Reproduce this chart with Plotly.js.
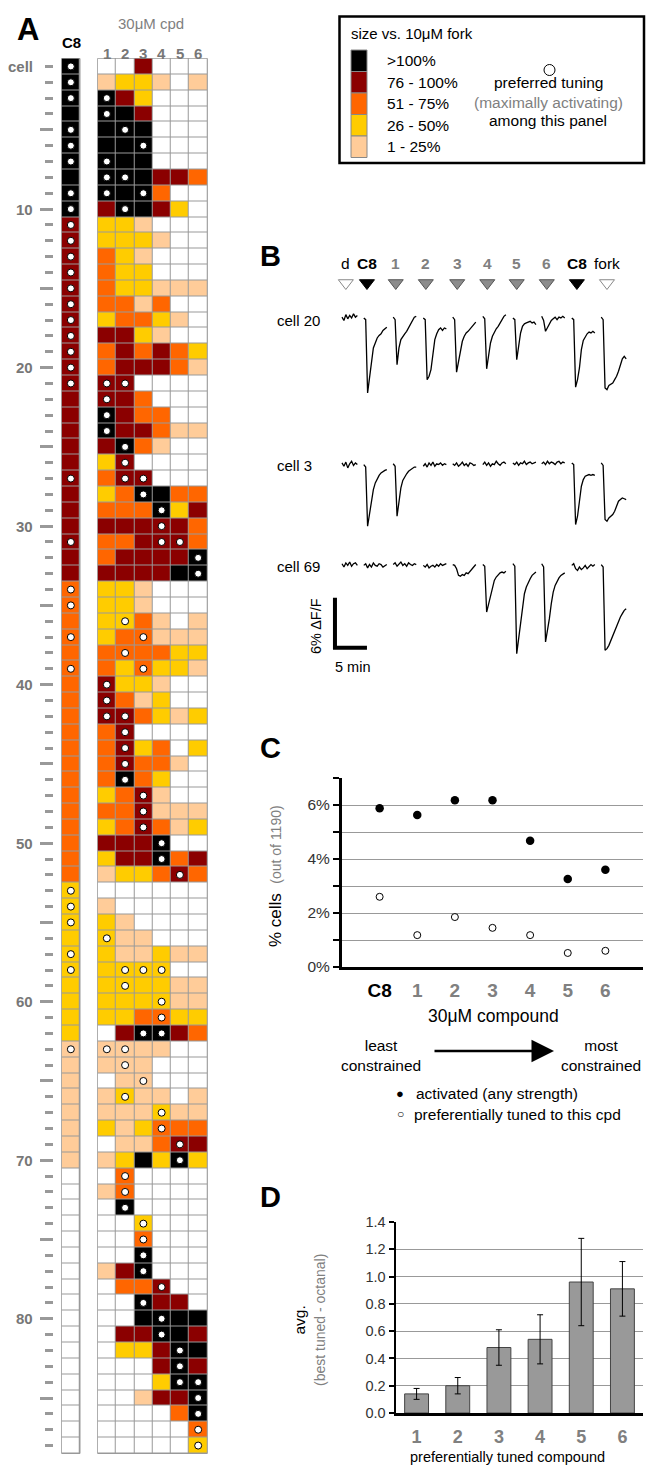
<!DOCTYPE html>
<html><head><meta charset="utf-8">
<script src="https://cdn.plot.ly/plotly-3.0.1.min.js"></script>
<style>body{margin:0;padding:0;background:#fff}#chart{width:661px;height:1469px}</style>
</head><body><div id="chart"></div>
<script>
const W = 661, H = 1469;
const FONT = 'Liberation Sans, Arial, sans-serif';

// ---------- Panel A data (level codes: 0 none, 1 = 1-25%, 2 = 26-50%, 3 = 51-75%, 4 = 76-100%, 5 = >100%) ----------
const levelColors = ['#ffffff', '#ffcc99', '#ffcc00', '#ff6600', '#8b0000', '#000000'];
const legendLabels = ['>100%', '76 - 100%', '51 - 75%', '26 - 50%', '1 - 25%'];
const legendLevels = [5, 4, 3, 2, 1];
const compoundNames = ['1', '2', '3', '4', '5', '6'];
const c8Level = [5,5,5,5,5,5,5,5,5,5, 4,4,4,4,4,4,4,4,4,4, 4,4,4,4,4,4,4,4,4,4, 4,4,4,3,3,3,3,3,3,3,
  3,3,3,3,3,3,3,3,3,3, 3,3,2,2,2,2,2,2,2,2, 2,2,1,1,1,1,1,1,1,1, 0,0,0,0,0,0,0,0,0,0, 0,0,0,0,0,0,0,0];
const cpd1Level = [0,1,5,5,5,5,5,5,5,4, 2,2,3,3,3,3,2,4,3,3, 4,4,5,5,4,2,3,2,3,4, 3,3,4,2,2,2,2,3,3,4,
  4,4,3,3,3,3,2,3,2,4, 2,1,0,1,2,2,2,2,2,2, 2,0,1,1,0,1,1,2,0,1, 0,1,0,0,0,0,1,0,0,0, 0,0,0,0,0,0,0,0];
const cpd2Level = [0,2,4,5,5,5,5,5,5,5, 2,2,2,2,2,3,3,4,4,4, 4,4,4,4,5,4,4,3,3,4, 3,4,4,2,2,2,3,3,2,2,
  3,4,4,4,4,5,3,3,3,4, 4,2,0,0,1,1,1,2,2,2, 2,4,1,1,1,2,1,1,1,2, 3,3,5,0,0,0,4,3,0,0, 4,2,0,0,0,0,0,0];
const cpd3Level = [4,2,2,4,5,5,5,5,5,5, 1,2,1,2,2,1,3,2,3,4, 0,3,3,4,3,0,4,5,3,4, 4,4,4,1,1,3,3,3,3,2,
  1,3,0,2,3,3,4,4,4,4, 4,2,0,0,0,1,1,2,2,2, 3,5,1,1,1,1,1,2,1,5, 0,0,0,2,3,5,5,3,5,5, 4,2,0,0,1,0,0,0];
const cpd4Level = [0,1,0,0,0,0,0,4,3,4, 0,1,0,0,1,3,2,1,4,4, 0,0,3,3,1,0,0,5,5,4, 4,4,4,0,0,1,1,3,2,1,
  2,2,0,3,3,2,1,1,3,5, 5,3,0,0,0,0,2,2,2,2, 3,5,1,0,0,1,2,3,3,2, 0,0,0,0,0,0,0,4,4,5, 5,4,4,2,4,0,0,0];
const cpd5Level = [0,0,0,0,0,0,0,4,0,2, 0,0,0,0,1,0,1,0,3,3, 0,0,0,1,0,0,0,3,2,4, 4,4,5,0,0,0,1,2,2,0,
  0,1,0,0,1,0,0,1,1,0, 3,4,0,0,0,0,1,0,1,1, 2,4,0,0,0,0,1,3,4,5, 0,0,0,0,0,0,0,0,4,5, 5,5,5,5,4,3,0,0];
const cpd6Level = [0,1,0,0,0,0,0,3,0,0, 0,0,0,0,1,0,0,0,2,1, 0,0,0,1,0,0,0,3,4,3, 3,5,5,0,0,1,1,2,1,0,
  0,2,0,2,0,0,0,1,2,0, 4,3,0,0,0,0,1,0,1,1, 2,3,0,0,0,1,1,3,4,2, 0,0,0,0,0,0,0,0,0,5, 4,5,4,5,5,5,3,2];
// preferred tuning (dots): cell numbers
const c8Dots = [1,2,3,5,6,7,9,10,11,12,13,14,15,16,17,18,19,20,21,27,31,34,35,37,39,53,54,55,57,58,63];
const cpd1Dots = [3,4,7,8,9,21,22,23,24,40,41,42,56,63];
const cpd2Dots = [5,8,10,21,25,26,27,36,38,42,43,44,45,46,58,59,63,64,66,71,72,73];
const cpd3Dots = [6,9,27,28,37,39,47,48,49,58,62,65,74,75,76,77,79];
const cpd4Dots = [29,30,31,50,51,58,60,61,62,67,68,78,80,81];
const cpd5Dots = [31,52,69,70,82,83,84];
const cpd6Dots = [32,33,84,85,86,87,88];
const rowMajorTicks = [5,10,15,20,25,30,35,40,45,50,55,60,65,70,75,80,85];
const rowLabelText = ['cell','10','20','30','40','50','60','70','80'];
const rowLabelAt = [1,10,20,30,40,50,60,70,80];

// ---------- Panel B data (ΔF/F %, sampled every 0.3 min within each stimulus window) ----------
const stimLabels = ['d','C8','1','2','3','4','5','6','C8','fork'];
const stimTimes = [0.6,3.9,8.4,13.1,18.0,22.7,27.3,32.0,36.7,41.4];   // min
const windowStart = [0,3.4,8.0,12.7,17.3,22.0,26.7,31.2,35.9,40.5]; // min
const sampleMin = 0.3;
const cell20 = [
  [0.1,-0.3,0.4,-0.1,0.3,0.0,0.5,0.1,0.3],
  [0.0,-0.2,-9.0,-7.2,-5.0,-3.6,-3.0,-2.4,-2.1,-1.9,-1.5,-1.3,-1.1],
  [0.1,-0.2,-5.6,-3.6,-2.6,-2.2,-1.9,-1.6,-1.2,-0.8,-0.4,0.1,0.2],
  [0.0,-0.2,-7.4,-7.0,-6.2,-4.0,-2.6,-1.9,-1.4,-1.2,-1.5,-1.2,-1.3],
  [0.1,-0.2,-6.5,-5.4,-4.0,-2.8,-2.2,-1.8,-1.6,-1.3,-1.1,-0.8,-0.5],
  [0.2,-0.1,-6.1,-4.4,-3.0,-2.2,-1.7,-1.3,-1.0,-0.6,-0.2,0.2,0.4],
  [0.0,-0.2,-5.0,-3.2,-1.8,-1.0,-0.7,-0.6,-0.5,-0.4,-0.6,-0.5,-0.8],
  [0.2,-0.3,-1.6,-1.1,-0.6,-0.3,-0.1,0.1,-0.2,0.1,0.0,0.2,0.0],
  [0.0,-0.2,-8.3,-7.4,-6.0,-3.8,-2.7,-2.2,-1.9,-1.7,-1.8,-1.6,-1.8],
  [0.1,-0.2,-8.4,-8.6,-8.1,-7.9,-7.8,-7.4,-7.0,-6.4,-5.6,-4.9,-4.6,-4.9]
];
const cell3 = [
  [0.2,-0.2,0.3,-0.4,0.1,0.4,-0.1,0.2,0.0],
  [0.0,-0.3,-7.4,-6.0,-4.2,-3.0,-2.2,-1.7,-1.3,-1.0,-0.8,-0.7,-0.6],
  [0.1,-0.2,-6.2,-4.2,-2.8,-1.9,-1.4,-1.1,-0.8,-0.6,-0.4,-0.3,-0.3],
  [-0.2,0.1,-0.3,0.2,-0.1,0.3,-0.2,0.1,0.0,0.2,-0.1,0.1,0.0],
  [0.1,-0.1,0.2,-0.2,0.0,0.3,-0.1,0.1,-0.2,0.2,0.1,-0.1,0.0],
  [0.0,0.3,-0.1,0.2,-0.2,0.1,0.0,0.4,0.1,-0.1,0.2,0.3,0.1],
  [0.2,0.0,0.3,-0.1,0.2,0.1,0.4,0.0,0.2,0.3,0.1,0.2,0.3],
  [0.1,0.3,0.0,0.4,0.1,0.3,0.2,0.0,0.3,0.4,0.1,0.3,0.2],
  [0.2,0.0,-7.2,-6.2,-4.4,-2.6,-1.8,-1.4,-1.3,-1.2,-1.3,-1.2,-1.3],
  [0.2,-0.1,-6.6,-6.8,-6.4,-6.2,-6.0,-5.6,-5.0,-4.4,-4.2,-4.0,-4.1,-4.2]
];
const cell69 = [
  [0.2,-0.2,0.3,0.0,0.4,-0.1,0.2,0.3,0.0],
  [0.0,0.2,-0.3,0.1,-0.2,0.3,0.0,-0.1,0.2,0.1,-0.2,0.0,0.1],
  [0.1,0.3,-0.1,0.2,0.4,0.0,0.2,-0.1,0.3,0.1,0.0,0.2,0.1],
  [0.0,-0.2,0.1,-0.3,-0.1,0.0,-0.2,0.1,-0.1,0.2,0.0,0.1,0.2],
  [0.1,0.0,-0.4,-1.2,-1.3,-1.1,-1.2,-0.9,-1.0,-0.7,-0.4,-0.1,0.1],
  [0.1,-0.1,-5.6,-4.6,-3.4,-2.4,-1.8,-1.4,-1.1,-0.9,-0.8,-0.9,-0.7],
  [0.2,-0.1,-10.6,-8.8,-6.8,-4.8,-3.4,-2.6,-2.0,-1.6,-1.2,-1.0,-0.8],
  [0.2,-0.2,-9.2,-8.0,-6.4,-4.6,-3.2,-2.4,-1.9,-1.5,-1.2,-1.0,-0.9],
  [0.0,0.2,-0.4,-0.6,-0.2,-0.5,-0.3,0.0,-0.4,-0.2,0.1,-0.1,0.1],
  [0.1,-0.2,-10.2,-10.0,-9.6,-9.0,-8.4,-7.8,-7.2,-6.8,-6.2,-5.8,-5.4,-5.2]
];
const scaleBarPct = 6, scaleBarMin = 5;

// ---------- Panel C data ----------
const cCats = ['C8','1','2','3','4','5','6'];
const activatedPct = [5.88,5.63,6.18,6.18,4.68,3.26,3.60];
const preferredPct = [2.60,1.18,1.85,1.45,1.18,0.52,0.60];

// ---------- Panel D data ----------
const dCats = ['1','2','3','4','5','6'];
const tunedDiff = [0.14,0.20,0.48,0.54,0.96,0.91];
const tunedErr = [0.04,0.06,0.13,0.18,0.32,0.20];

// ---------- helpers ----------
const PX = v => v / W, PY = v => 1 - v / H;
function pa(text, x, y, o) {
  o = o || {};
  const font = Object.assign({family: FONT, size: 15, color: '#000'}, o.font || {});
  return Object.assign({text, x: PX(x), y: PY(y), xref: 'paper', yref: 'paper', showarrow: false,
    xanchor: 'center', yanchor: 'middle'}, o, {font});
}
const cellIds = c8Level.map((_, i) => i + 1);
const cpdLevels = [cpd1Level, cpd2Level, cpd3Level, cpd4Level, cpd5Level, cpd6Level];
const cpdDots = [cpd1Dots, cpd2Dots, cpd3Dots, cpd4Dots, cpd5Dots, cpd6Dots];
const colorscale = [];
levelColors.forEach((c, i) => { colorscale.push([i / 6, c]); colorscale.push([(i + 1) / 6, c]); });

const traces = [];
// Panel A heatmaps
traces.push({type: 'heatmap', x: [0], y: cellIds, z: c8Level.map(v => [v]), colorscale, zmin: -0.5, zmax: 5.5,
  showscale: false, xgap: 1, ygap: 1, hoverinfo: 'skip', xaxis: 'x', yaxis: 'y'});
const cpdX = compoundNames.map((_, i) => i + 1);
traces.push({type: 'heatmap', x: cpdX, y: cellIds, z: cellIds.map((_, r) => cpdLevels.map(col => col[r])),
  colorscale, zmin: -0.5, zmax: 5.5, showscale: false, xgap: 1, ygap: 1, hoverinfo: 'skip', xaxis: 'x2', yaxis: 'y2'});
const dotMarker = {size: 7, color: '#ffffff', line: {color: '#000', width: 1}};
traces.push({type: 'scatter', mode: 'markers', x: c8Dots.map(() => 0), y: c8Dots, marker: dotMarker,
  hoverinfo: 'skip', xaxis: 'x', yaxis: 'y'});
const dx = [], dy = [];
cpdDots.forEach((list, k) => list.forEach(r => { dx.push(k + 1); dy.push(r); }));
traces.push({type: 'scatter', mode: 'markers', x: dx, y: dy, marker: dotMarker, hoverinfo: 'skip', xaxis: 'x2', yaxis: 'y2'});

// Panel B traces
const cellOffsets = [0, -17.6, -29.7]; // vertical placement of each trace (layout)
[cell20, cell3, cell69].forEach((segs, ci) => {
  const x = [], y = [];
  segs.forEach((vals, si) => {
    vals.forEach((v, j) => { x.push(windowStart[si] + j * sampleMin); y.push(v + cellOffsets[ci]); });
    x.push(null); y.push(null);
  });
  traces.push({type: 'scatter', mode: 'lines', x, y, line: {color: '#000', width: 1.3}, hoverinfo: 'skip',
    xaxis: 'x5', yaxis: 'y5', connectgaps: false});
});
const stimRowY = 4.2, stimLabelY = 6.5;
const stimFill = stimLabels.map((s) => (s === 'C8') ? '#000' : (s === 'd' || s === 'fork') ? '#fff' : '#8c8c8c');
const stimLine = stimLabels.map((s) => (s === 'C8') ? '#000' : (s === 'd' || s === 'fork') ? '#888' : '#555');
traces.push({type: 'scatter', mode: 'markers', x: stimTimes, y: stimTimes.map(() => stimRowY),
  marker: {symbol: 'triangle-down', size: 13, color: stimFill, line: {color: stimLine, width: 1}},
  cliponaxis: false, hoverinfo: 'skip', xaxis: 'x5', yaxis: 'y5'});
// scale bar
const sbX = -1.1, sbY = -33.6;
traces.push({type: 'scatter', mode: 'lines', x: [sbX, sbX, sbX + scaleBarMin], y: [sbY, sbY - scaleBarPct, sbY - scaleBarPct],
  line: {color: '#000', width: 4}, hoverinfo: 'skip', xaxis: 'x5', yaxis: 'y5', cliponaxis: false});

// Panel C
const cPos = cCats.map((_, i) => i);
traces.push({type: 'scatter', mode: 'markers', x: cPos, y: activatedPct, marker: {size: 8.5, color: '#000'},
  cliponaxis: false, hoverinfo: 'skip', xaxis: 'x3', yaxis: 'y3'});
traces.push({type: 'scatter', mode: 'markers', x: cPos, y: preferredPct,
  marker: {size: 7, color: '#fff', line: {color: '#000', width: 1}}, cliponaxis: false, hoverinfo: 'skip', xaxis: 'x3', yaxis: 'y3'});

// Panel D
const dPos = dCats.map((_, i) => i + 1);
traces.push({type: 'bar', x: dPos, y: tunedDiff, width: 0.58, marker: {color: '#999999', line: {color: '#444', width: 1}},
  error_y: {type: 'data', array: tunedErr, visible: true, color: '#000', thickness: 1, width: 3},
  hoverinfo: 'skip', xaxis: 'x4', yaxis: 'y4'});

const grey = '#7f7f7f';
const annotations = [];
// panel letters
annotations.push(pa('<b>A</b>', 28, 30, {font: {size: 31}}));
annotations.push(pa('<b>B</b>', 270, 256, {font: {size: 29}}));
annotations.push(pa('<b>C</b>', 270, 748, {font: {size: 29}}));
annotations.push(pa('<b>D</b>', 270, 1197, {font: {size: 29}}));
// Panel A headers
annotations.push(pa('30μM cpd', 151, 23, {font: {size: 15, color: grey}}));
annotations.push(pa('<b>C8</b>', 71, 43, {font: {size: 15}}));
compoundNames.forEach((n, i) => annotations.push({text: '<b>' + n + '</b>', x: i + 1, y: PY(43), xref: 'x2', yref: 'paper', showarrow: false,
  font: {family: FONT, size: 15, color: '#777'}}));
rowLabelText.forEach((t, i) => annotations.push({text: '<b>' + t + '</b>', x: PX(35), y: rowLabelAt[i], xref: 'paper', yref: 'y',
  xanchor: 'right', yanchor: 'middle', showarrow: false, font: {family: FONT, size: 15, color: '#777'}}));
// legend box texts
annotations.push(pa('size vs. 10μM fork', 349, 33, {xanchor: 'left', font: {size: 15}}));
legendLabels.forEach((t, i) => annotations.push(pa(t, 385, 60.5 + i * 21.5, {xanchor: 'left', font: {size: 15.5}})));
annotations.push(pa('preferred tuning', 548, 83, {font: {size: 15.5}}));
annotations.push(pa('(maximally activating)', 548, 102, {font: {size: 15.5, color: grey}}));
annotations.push(pa('among this panel', 548, 121, {font: {size: 15.5}}));
// Panel B texts
annotations.push(pa('cell 20', 275, 320, {xanchor: 'left'}));
annotations.push(pa('cell 3', 275, 465, {xanchor: 'left'}));
annotations.push(pa('cell 69', 275, 566, {xanchor: 'left'}));
stimLabels.forEach((s, i) => {
  const isC8 = s === 'C8', isNum = !(isC8 || s === 'd' || s === 'fork');
  annotations.push({text: (isC8 || isNum) ? '<b>' + s + '</b>' : s, x: stimTimes[i], y: stimLabelY, xref: 'x5', yref: 'y5', showarrow: false,
    font: {family: FONT, size: 15.5, color: isNum ? '#808080' : '#000'}});
});
annotations.push(pa('6% ΔF/F', 316, 626, {textangle: -90, font: {size: 14.5}}));
annotations.push(pa('5 min', 352, 667, {font: {size: 14.5}}));
// Panel C texts
annotations.push(pa('% cells  <span style="font-size:14px;color:#808080">(out of 1190)</span>', 275, 876, {textangle: -90, font: {size: 17}}));
annotations.push(pa('30μM compound', 493, 1016, {font: {size: 17.5}}));
annotations.push(pa('least<br>constrained', 381, 1055, {font: {size: 15.5}}));
annotations.push(pa('most<br>constrained', 601, 1055, {font: {size: 15.5}}));
annotations.push({text: '', x: PX(554), y: PY(1051), xref: 'paper', yref: 'paper', ax: -121, ay: 0, axref: 'pixel', ayref: 'pixel',
  showarrow: true, arrowhead: 2, arrowsize: 1.8, arrowwidth: 2.5, arrowcolor: '#000'});
annotations.push(pa('●', 400, 1093, {font: {size: 13}}));
annotations.push(pa('activated (any strength)', 414, 1093, {xanchor: 'left', font: {size: 15.5}}));
annotations.push(pa('○', 400, 1114, {font: {size: 12}}));
annotations.push(pa('preferentially tuned to this cpd', 412, 1114, {xanchor: 'left', font: {size: 15.5}}));
// Panel D texts
annotations.push(pa('avg.<br><span style="font-size:14px;color:#808080">(best tuned - octanal)</span>', 309, 1320, {textangle: -90, font: {size: 15.5}}));
annotations.push(pa('preferentially tuned compound', 507, 1457, {font: {size: 14.5}}));

// shapes
const shapes = [];
['x', 'x2'].forEach((xa, i) => shapes.push({type: 'rect', xref: xa + ' domain', yref: (i ? 'y2' : 'y') + ' domain', x0: 0, x1: 1, y0: 0, y1: 1,
  fillcolor: '#999', line: {color: '#999', width: 1}, layer: 'below'}));
shapes.push({type: 'rect', xref: 'paper', yref: 'paper', x0: PX(339.5), x1: PX(644), y0: PY(163), y1: PY(16.5), line: {color: '#000', width: 2.5}});
legendLevels.forEach((lv, i) => shapes.push({type: 'rect', xref: 'paper', yref: 'paper', x0: PX(351), x1: PX(367),
  y0: PY(50 + (i + 1) * 21.5), y1: PY(50 + i * 21.5), fillcolor: levelColors[lv], line: {color: '#888', width: 1}}));
shapes.push({type: 'circle', xref: 'paper', yref: 'paper', x0: PX(544), x1: PX(555), y0: PY(75.5), y1: PY(64.5), line: {color: '#000', width: 1}, fillcolor: '#fff'});

const axOff = {visible: false, fixedrange: true};
const layout = {
  width: W, height: H, margin: {l: 0, r: 0, t: 0, b: 0}, paper_bgcolor: '#fff', plot_bgcolor: 'rgba(0,0,0,0)',
  showlegend: false, font: {family: FONT, size: 14, color: '#000'}, bargap: 0.4,
  xaxis: Object.assign({domain: [PX(61.7), PX(80)], range: [-0.5, 0.5], anchor: 'y'}, axOff),
  yaxis: {domain: [PY(1453.5), PY(58.5)], range: [88.5, 0.5], anchor: 'free', position: PX(53), showgrid: false, zeroline: false,
    showline: false, showticklabels: false, tickmode: 'array', tickvals: rowMajorTicks, ticks: 'outside', ticklen: 13, tickwidth: 3,
    tickcolor: '#999', minor: {tickmode: 'linear', tick0: 1, dtick: 1, ticks: 'outside', ticklen: 8, tickwidth: 3, tickcolor: '#999', showgrid: false}},
  xaxis2: Object.assign({domain: [PX(97.7), PX(207.3)], range: [0.5, 6.5], anchor: 'y2'}, axOff),
  yaxis2: Object.assign({domain: [PY(1453.5), PY(58.5)], range: [88.5, 0.5], anchor: 'x2'}, axOff),
  xaxis3: {domain: [PX(342), PX(643)], range: [-1, 7], anchor: 'y3', tickmode: 'array', tickvals: cPos,
    ticktext: cCats.map((c, i) => i === 0 ? '<b>' + c + '</b>' : '<b><span style="color:#808080">' + c + '</span></b>'),
    ticks: '', showline: true, linewidth: 3, linecolor: '#000', showgrid: false, zeroline: false, ticklabelstandoff: 4,
    tickfont: {family: FONT, size: 19, color: '#000'}, fixedrange: true},
  yaxis3: {domain: [PY(967), PY(778)], range: [0, 7], anchor: 'x3', tickmode: 'array', tickvals: [0, 2, 4, 6],
    ticktext: ['0%', '2%', '4%', '6%'], ticks: 'outside', ticklen: 6, tickwidth: 2, tickcolor: '#000',
    showline: true, linewidth: 3, linecolor: '#000', showgrid: true, gridcolor: '#999', gridwidth: 1, zeroline: false,
    tickfont: {family: FONT, size: 15.5, color: '#333'}, fixedrange: true,
    minor: {tickmode: 'linear', tick0: 0, dtick: 1, ticks: 'outside', ticklen: 6, tickwidth: 2, tickcolor: '#000', showgrid: true, gridcolor: '#999', gridwidth: 1}},
  xaxis4: {domain: [PX(396), PX(643)], range: [0.5, 6.5], anchor: 'y4', tickmode: 'array', tickvals: dPos,
    ticktext: dCats.map(c => '<b>' + c + '</b>'), ticks: '', showline: true, linewidth: 2.5, linecolor: '#000',
    showgrid: false, zeroline: false, ticklabelstandoff: 6, tickfont: {family: FONT, size: 18, color: '#808080'}, fixedrange: true},
  yaxis4: {domain: [PY(1413), PY(1222)], range: [0, 1.4], anchor: 'x4', dtick: 0.2, tick0: 0, tickformat: '.1f',
    ticks: 'outside', ticklen: 5, tickwidth: 2, tickcolor: '#000', showline: true, linewidth: 2.5, linecolor: '#000',
    showgrid: true, gridcolor: '#999', gridwidth: 1, zeroline: false, tickfont: {family: FONT, size: 14.5, color: '#333'}, fixedrange: true},
  xaxis5: Object.assign({domain: [PX(330), PX(640)], range: [-1.875, 46.56], anchor: 'y5'}, axOff),
  yaxis5: Object.assign({domain: [PY(680), PY(250)], range: [-43.46, 8.16], anchor: 'x5'}, axOff),
  annotations, shapes
};
Plotly.newPlot('chart', traces, layout, {staticPlot: true, displayModeBar: false});
</script></body></html>
